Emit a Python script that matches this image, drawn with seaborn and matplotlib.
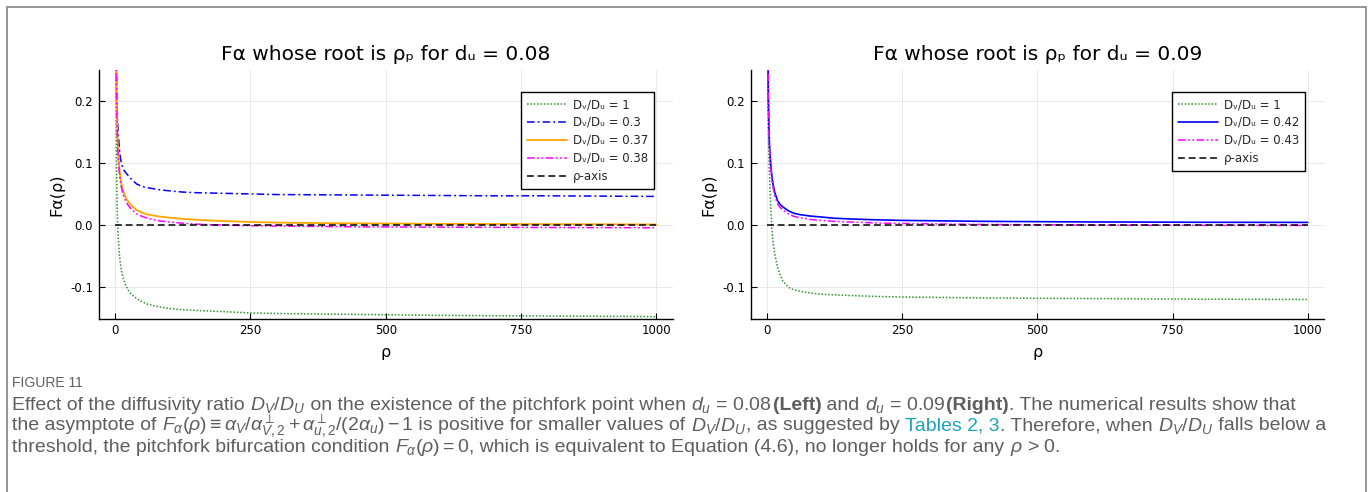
import matplotlib
matplotlib.use("Agg")
import matplotlib.pyplot as plt
from matplotlib.patches import Rectangle
import seaborn as sns
import pandas as pd

# ---------------- data ----------------
rho = [1, 2, 3, 4, 5, 6, 8, 10, 12, 15, 20, 25, 30, 40, 50, 60, 80, 100,
       125, 150, 200, 250, 300, 400, 500, 600, 700, 800, 900, 1000]

# left panel, d_u = 0.08
left_r100 = [0.45, 0.2, 0.09, 0.035, 0.0, -0.02, -0.045, -0.062, -0.073, -0.085,
             -0.097, -0.105, -0.111, -0.118, -0.123, -0.127, -0.131, -0.134,
             -0.136, -0.137, -0.139, -0.141, -0.142, -0.143, -0.144, -0.145,
             -0.1455, -0.146, -0.1465, -0.147]
left_r030 = [0.6, 0.35, 0.24, 0.19, 0.165, 0.148, 0.125, 0.108, 0.099, 0.09,
             0.084, 0.079, 0.074, 0.066, 0.062, 0.06, 0.057, 0.055, 0.053,
             0.052, 0.051, 0.05, 0.049, 0.0485, 0.048, 0.0475, 0.047, 0.047,
             0.0465, 0.046]
left_r037 = [0.6, 0.33, 0.22, 0.165, 0.135, 0.115, 0.093, 0.077, 0.066, 0.055,
             0.044, 0.037, 0.032, 0.024, 0.02, 0.017, 0.014, 0.012, 0.01,
             0.0085, 0.0065, 0.005, 0.004, 0.003, 0.0025, 0.002, 0.0017,
             0.0015, 0.0012, 0.001]
left_r038 = [0.6, 0.32, 0.21, 0.158, 0.128, 0.108, 0.086, 0.07, 0.06, 0.049,
             0.038, 0.031, 0.026, 0.018, 0.014, 0.011, 0.007, 0.005, 0.003,
             0.0015, 0.0, -0.001, -0.0015, -0.0025, -0.003, -0.0033, -0.0036,
             -0.0039, -0.0041, -0.0043]

# right panel, d_u = 0.09
right_r100 = [0.45, 0.2, 0.15, 0.113, 0.085, 0.06, 0.02, -0.014, -0.03, -0.047,
              -0.068, -0.081, -0.09, -0.1, -0.104, -0.106, -0.109, -0.111,
              -0.112, -0.113, -0.1145, -0.1155, -0.116, -0.117, -0.1175,
              -0.118, -0.1185, -0.119, -0.1193, -0.1195]
right_r042 = [0.6, 0.32, 0.21, 0.16, 0.13, 0.115, 0.092, 0.075, 0.064, 0.052,
              0.039, 0.033, 0.029, 0.023, 0.019, 0.017, 0.0145, 0.013, 0.011,
              0.01, 0.0085, 0.0075, 0.007, 0.006, 0.0055, 0.005, 0.0048,
              0.0045, 0.0044, 0.0043]
right_r043 = [0.6, 0.31, 0.205, 0.155, 0.125, 0.11, 0.087, 0.07, 0.059, 0.047,
              0.034, 0.028, 0.024, 0.018, 0.014, 0.012, 0.009, 0.0075, 0.006,
              0.005, 0.0035, 0.0025, 0.002, 0.001, 0.0005, 0.0, -0.0002,
              -0.0004, -0.0005, -0.0006]

axis_rho = [0, 1000]
axis_zero = [0.0, 0.0]

titles = ["Fα whose root is ρₚ for dᵤ = 0.08", "Fα whose root is ρₚ for dᵤ = 0.09"]
xticks = [0, 250, 500, 750, 1000]
yticks = [-0.1, 0.0, 0.1, 0.2]
ytick_labels = ["-0.1", "0.0", "0.1", "0.2"]

left_series = [
    ("Dᵥ/Dᵤ = 1", left_r100, "#2a952a", (0, (1, 1.2)), 1.1),
    ("Dᵥ/Dᵤ = 0.3", left_r030, "#0000ff", (0, (5, 2, 1.2, 2)), 1.1),
    ("Dᵥ/Dᵤ = 0.37", left_r037, "#ffa500", "-", 1.3),
    ("Dᵥ/Dᵤ = 0.38", left_r038, "#ff00ff", (0, (5, 1.6, 1.2, 1.6, 1.2, 1.6)), 1.1),
]
right_series = [
    ("Dᵥ/Dᵤ = 1", right_r100, "#2a952a", (0, (1, 1.2)), 1.1),
    ("Dᵥ/Dᵤ = 0.42", right_r042, "#0000ff", "-", 1.2),
    ("Dᵥ/Dᵤ = 0.43", right_r043, "#ff00ff", (0, (5, 1.6, 1.2, 1.6, 1.2, 1.6)), 1.1),
]

# ---------------- figure ----------------
sns.set_theme(style="white")
plt.rcParams["font.family"] = ["DejaVu Sans"]
plt.rcParams["mathtext.fontset"] = "custom"
plt.rcParams["mathtext.rm"] = "Liberation Sans"
plt.rcParams["mathtext.it"] = "Liberation Sans:italic"
plt.rcParams["mathtext.bf"] = "Liberation Sans:bold"

W, H = 1371, 492
fig = plt.figure(figsize=(W / 100, H / 100), dpi=100)

# outer frame
fig.patches.append(Rectangle((6.5 / W, -0.05), (1366 - 6.5) / W, 1.05 - 7 / H,
                             transform=fig.transFigure, fill=False,
                             edgecolor="#8c8c8c", linewidth=1.3))

ax_pos = [(98.7, 574.0), (750.5, 573.5)]
top_px, bot_px = 70, 318.5
panels = [left_series, right_series]

for i, (series, title) in enumerate(zip(panels, titles)):
    x0, w = ax_pos[i]
    ax = fig.add_axes([x0 / W, 1 - bot_px / H, w / W, (bot_px - top_px) / H])
    for label, vals, color, ls, lw in series:
        df = pd.DataFrame({"rho": rho, "F": vals})
        sns.lineplot(data=df, x="rho", y="F", ax=ax, color=color, linestyle=ls,
                     linewidth=lw, label=label, estimator=None, sort=False)
    dfa = pd.DataFrame({"rho": axis_rho, "F": axis_zero})
    sns.lineplot(data=dfa, x="rho", y="F", ax=ax, color="black",
                 linestyle=(0, (4.5, 2.5)), linewidth=1.1, label="ρ-axis",
                 estimator=None)
    ax.set_xlim(-30, 1030)
    ax.set_ylim(-0.15, 0.249)
    ax.set_xticks(xticks)
    ax.set_xticklabels([str(t) for t in xticks])
    ax.set_yticks(yticks)
    ax.set_yticklabels(ytick_labels)
    ax.grid(True, color="#e8e8e8", linewidth=0.7)
    for s in ["top", "right"]:
        ax.spines[s].set_visible(False)
    for s in ["left", "bottom"]:
        ax.spines[s].set_color("black")
        ax.spines[s].set_linewidth(1.0)
    ax.tick_params(axis="both", direction="in", length=4, width=0.8,
                   labelsize=8.5, colors="black", pad=4,
                   left=True, bottom=True)
    ax.set_title(title, fontsize=14.5, pad=7, color="black")
    ax.set_xlabel("ρ", fontsize=11.5, labelpad=6, color="black")
    ax.set_ylabel("Fα(ρ)", fontsize=11.5, labelpad=4, color="black")
    leg = ax.legend(loc="upper right", bbox_to_anchor=(0.967, 0.911),
                    borderaxespad=0, fontsize=8.5, frameon=True, fancybox=False,
                    handlelength=3.4, handletextpad=0.5, labelspacing=0.42,
                    borderpad=0.5)
    leg.get_frame().set_edgecolor("black")
    leg.get_frame().set_linewidth(1.0)
    leg.get_frame().set_alpha(1)

# ---------------- caption ----------------
cap_color = "#5e5e5e"
link_color = "#1aa3b8"
cap_family = ["Liberation Sans", "DejaVu Sans"]

fig.text(12 / W, 1 - 383 / H, "FIGURE 11", fontsize=10, color=cap_color,
         family=cap_family, va="center")

lines = [
    [("Effect of the diffusivity ratio ", {}), (r"$D_V/D_U$", {}),
     (" on the existence of the pitchfork point when ", {}),
     (r"$d_u$ = 0.08 ", {}), ("(Left)", {"fontweight": "bold"}),
     (" and ", {}), (r"$d_u$ = 0.09 ", {}), ("(Right)", {"fontweight": "bold"}),
     (". The numerical results show that", {})],
    [("the asymptote of ", {}),
     (r"$F_\alpha(\rho) \equiv \alpha_V/\alpha^{\perp}_{V,2} + \alpha^{\perp}_{u,2}/(2\alpha_u) - 1$", {}),
     (" is positive for smaller values of ", {}), (r"$D_V/D_U$", {}),
     (", as suggested by ", {}), ("Tables 2, 3", {"color": link_color}),
     (". Therefore, when ", {}), (r"$D_V/D_U$", {}), (" falls below a", {})],
    [("threshold, the pitchfork bifurcation condition ", {}),
     (r"$F_\alpha(\rho) = 0$", {}),
     (", which is equivalent to Equation (4.6), no longer holds for any ", {}),
     (r"$\rho$ > 0.", {})],
]
line_y = [405, 426, 447]
fig.canvas.draw()
renderer = fig.canvas.get_renderer()


def draw_caption(fs, keep):
    made = []
    widths = []
    for segs, yy in zip(lines, line_y):
        x = 12.0
        for txt, kw in segs:
            props = dict(fontsize=fs, color=cap_color, family=cap_family, va="center")
            props.update(kw)
            t = fig.text(x / W, 1 - yy / H, txt, **props)
            bb = t.get_window_extent(renderer)
            x += bb.width
            made.append(t)
        widths.append(x - 12.0)
    if not keep:
        for t in made:
            t.remove()
    return widths


base = 12.0
w1 = draw_caption(base, keep=False)[0]
fs = min(base * (1345 - 12) / w1, 14.0)
draw_caption(fs, keep=True)

fig.savefig("out.png", dpi=100, facecolor="white")
